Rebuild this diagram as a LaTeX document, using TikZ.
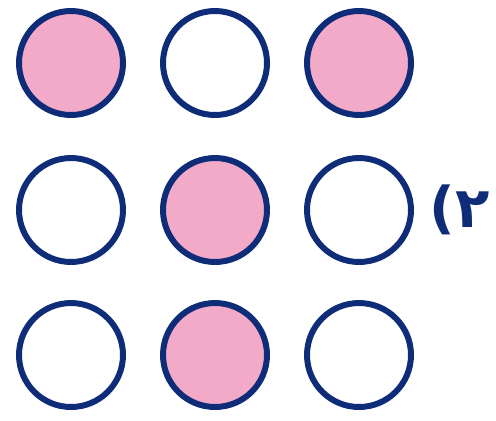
\documentclass[tikz,border=0pt]{standalone}
\usepackage{fontspec}
\usepackage{tikz}
\usetikzlibrary{positioning}
\TeXXeTstate=1
\newfontfamily\arabicfont[Script=Arabic]{DejaVu Sans}
\definecolor{RingNavy}{RGB}{14,44,120}
\definecolor{DotPink}{RGB}{242,170,200}

\begin{document}
\begin{tikzpicture}[x=0.02cm, y=-0.02cm,
            dot/.style={circle, draw=RingNavy, line width=3.4pt,
                        minimum size=2.08cm, inner sep=0pt},
            full/.style={dot, fill=DotPink},
            hollow/.style={dot, fill=white}
          ]
          \useasboundingbox (0,0) rectangle (496,420);
          % rows top to bottom
          \foreach \kind [count=\i] in {full,hollow,full}
                \node[\kind] (a\i) at ({71+144*(\i-1)}, 63) {};
          \foreach \kind [count=\i] in {hollow,full,hollow}
                \node[\kind] (b\i) at ({71+144*(\i-1)}, 210) {};
          \foreach \kind [count=\i] in {hollow,full,hollow}
                \node[\kind] (c\i) at ({71+144*(\i-1)}, 355) {};
          \node[right=0.3cm of b3, text=RingNavy, inner sep=0pt,
                font=\arabicfont\bfseries\fontsize{32}{34}\selectfont]
                (lbl) {\beginR ۲)\endR};
        \end{tikzpicture}
\end{document}
